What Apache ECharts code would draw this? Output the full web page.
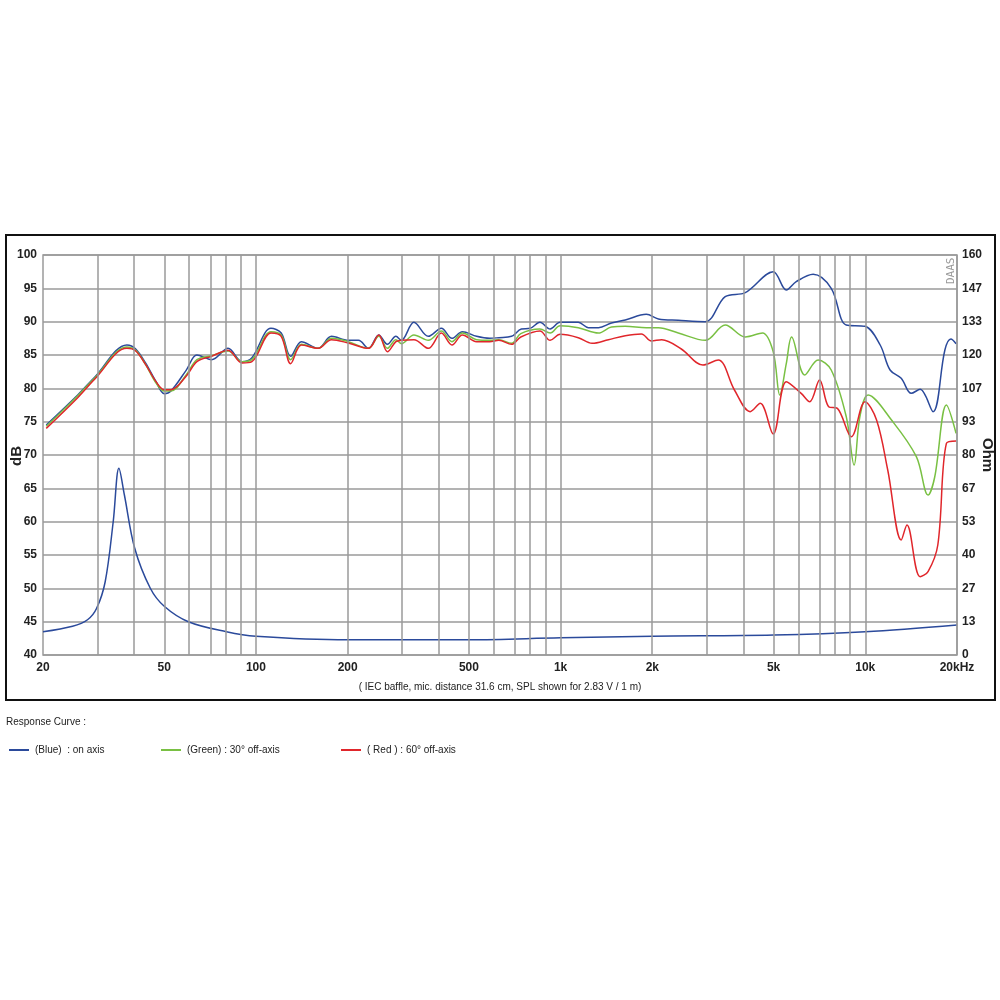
<!DOCTYPE html>
<html><head><meta charset="utf-8">
<script src="https://cdn.jsdelivr.net/npm/echarts@6/dist/echarts.min.js"></script>
<style>html,body{margin:0;padding:0;background:#fff}#c{width:1000px;height:1000px}</style>
</head><body><div id="c"></div>
<script>
const blueF = [20.5,26,29.6,37.7,40.3,43.4,47,50,52.6,59,64,71.5,81,90,97,112,121,130,141,160,177,201,217,234,253,270,288,300,330,368,406,440,476,530,585,627,690,743,794,855,924,996,1143,1234,1331,1469,1630,1911,2094,2434,2985,3469,4036,4985,5506,5934,6745,7730,8660,9980,11190,12060,13120,14150,15130,16690,18250,19100,19860];
const blueV = [74.5,79,81.7,86.5,85.9,83.8,81,79.2,79.6,82.7,85,84.3,86,84,84.6,89,88.3,84.8,87,86,87.8,87.2,87.2,86,88,86.6,87.8,87.2,89.9,87.8,89,87.5,88.5,87.8,87.5,87.6,87.8,88.9,89,89.9,88.9,89.9,89.9,89.1,89.1,89.8,90.25,91.1,90.4,90.2,90,93.75,94.35,97.5,94.75,96,97.1,95,89.5,89.3,86.5,82.75,81.5,79.25,79.85,76.5,85.75,87.4,86.7];
const greenF = [20.5,26,29.6,37.7,40.3,43.4,47,50,52.6,59,64,71.5,81,90,97,112,121,130,141,160,177,201,234,253,270,288,300,330,368,406,440,476,530,585,627,690,740,855,924,996,1143,1331,1469,1630,1911,2094,2434,2985,3469,4036,4600,4985,5240,5506,5730,6330,7000,7730,8660,9190,9600,10220,12190,14710,16070,16900,18460,19860];
const greenV = [74.3,78.9,81.6,86.2,85.7,83.6,80.8,79.6,79.6,82,84.3,84.9,85.6,84,84.3,88.5,88,84.3,86.6,86,87.5,87,86,87.8,86,87.3,86.7,88,87.2,88.6,87,88.3,87.3,87.2,87.3,86.75,88.2,88.9,88.3,89.4,89.1,88.3,89.2,89.3,89.1,89.1,88.3,87.2,89.5,87.7,88.3,85.5,79,83.75,87.7,82,84.25,82.75,75.75,68.5,75.75,79,75.25,69.75,64,66.7,77.5,73.25];
const redF = [20.5,26,29.6,37.7,40.3,43.4,47,50,52.6,59,64,71.5,81,90,97,112,121,130,141,160,177,201,234,253,270,288,300,330,368,406,440,476,530,585,627,690,740,855,924,996,1143,1268,1435,1630,1841,1986,2147,2490,2930,3290,3720,4190,4520,4985,5506,6160,6570,7080,7580,8100,9000,9980,10890,11850,13120,13700,15130,16070,17300,18460,19860];
const redV = [74,78.6,81.4,86,85.6,83.6,81,79.8,79.8,81.8,84,84.8,85.7,83.8,84,88.3,87.8,83.7,86.5,86,87.3,86.8,86,88,85.5,87,87.2,87.3,86,88.3,86.5,88,87,87,87.2,86.6,87.7,88.6,87.2,88.1,87.6,86.75,87.3,87.9,88.15,87.1,87.3,85.9,83.5,84.25,79.75,76.5,77.75,73.15,81,79.25,78,81.25,77.25,77,72.75,78,75.25,67.75,57.25,59.5,51.75,52.5,56.5,71.75,72.1];
const impF = [20,25,28,30,32,34,35.5,37,40,45,50,60,80,100,200,500,1000,2000,5000,10000,20000];
const impV = [9.3,11.5,14.1,18.7,29.3,53.3,74.7,64,42.7,26.7,19.5,13.3,9.3,7.5,6.1,6.1,6.9,7.5,8,9.3,12];
const gridFreqs = [20,30,40,50,60,70,80,90,100,200,300,400,500,600,700,800,900,1000,2000,3000,4000,5000,6000,7000,8000,9000,10000,20000];
const labelFreqs = [20,50,100,200,500,1000,2000,5000,10000,20000];
const labelTexts = ['20','50','100','200','500','1k','2k','5k','10k','20kHz'];
const legendNames = ['(Blue)  : on axis','(Green) : 30° off-axis','( Red ) : 60° off-axis'];

const L = Math.log10;
const XMIN = L(20), XMAX = L(20000);
const pts = (F, V) => F.map((f, i) => [L(f), V[i]]);
const FONT = 'Liberation Sans';
const chart = echarts.init(document.getElementById('c'));
const lineSeries = (name, F, V, color, yi) => ({
  name, type: 'line', data: pts(F, V), yAxisIndex: yi || 0, showSymbol: false, smooth: 0.35,
  lineStyle: { color, width: 1.5 }, itemStyle: { color }, z: 3, silent: true
});
const lblVals = labelFreqs.map(L);
chart.setOption({
  animation: false,
  grid: { left: 43, right: 43, top: 255, bottom: 345, containLabel: false, outerBoundsMode: 'none',
    show: true, borderColor: '#9a9a9a', borderWidth: 1.5, backgroundColor: 'transparent' },
  xAxis: { type: 'value', min: XMIN, max: XMAX, axisTick: { show: false },
    axisLabel: { show: true, customValues: lblVals, showMinLabel: true, showMaxLabel: true, margin: 7,
      fontFamily: FONT, fontSize: 12, fontWeight: 'bold', color: '#222',
      formatter: v => { let i = lblVals.findIndex(x => Math.abs(x - v) < 1e-6); return i >= 0 ? labelTexts[i] : ''; } },
    splitLine: { show: false }, axisLine: { show: false },
    name: '( IEC baffle, mic. distance 31.6 cm, SPL shown for 2.83 V / 1 m)', nameLocation: 'middle', nameGap: 27,
    nameTextStyle: { fontFamily: FONT, fontSize: 10, color: '#222' } },
  yAxis: [
    { type: 'value', min: 40, max: 100, interval: 5, axisLine: { show: false }, axisTick: { show: false },
      axisLabel: { fontFamily: FONT, fontSize: 12, fontWeight: 'bold', color: '#222', margin: 6 },
      splitLine: { lineStyle: { color: '#9a9a9a', width: 1.5 } } },
    { type: 'value', min: 0, max: 160, interval: 160/12, axisLine: { show: false }, axisTick: { show: false },
      splitLine: { show: false },
      axisLabel: { fontFamily: FONT, fontSize: 12, fontWeight: 'bold', color: '#222', margin: 5, formatter: v => Math.round(v) } }
  ],
  legend: [0,1,2].map(i => ({
    data: [legendNames[i]], left: [4,156,336][i], top: 740, icon: 'path://M0,0 L20,0 L20,2 L0,2 Z',
    itemWidth: 22, itemHeight: 2, itemGap: 4, textStyle: { fontFamily: FONT, fontSize: 10, color: '#222' }, selectedMode: false
  })),
  graphic: [
    { type: 'rect', shape: { x: 6, y: 235, width: 989, height: 465 }, style: { fill: 'none', stroke: '#111', lineWidth: 2 } },
    { type: 'text', left: 6, top: 717, style: { text: 'Response Curve :', font: '10px "Liberation Sans"', fill: '#222' } },
    { type: 'text', x: 946, y: 284, rotation: Math.PI/2, style: { text: 'DAAS', font: '11px "DejaVu Sans Mono"', fill: '#999' } },
    { type: 'text', x: 9, y: 466, rotation: Math.PI/2, style: { text: 'dB', font: 'bold 15px "Liberation Sans"', fill: '#222' } },
    { type: 'text', x: 995, y: 438, rotation: -Math.PI/2, style: { text: 'Ohm', font: 'bold 15px "Liberation Sans"', fill: '#222' } }
  ],
  series: [
    { type: 'line', data: [], silent: true, markLine: { silent: true, symbol: 'none', animation: false,
        lineStyle: { color: '#9a9a9a', width: 1.5, type: 'solid' }, label: { show: false },
        data: gridFreqs.map(f => ({ xAxis: L(f) })) } },
    lineSeries(legendNames[0], blueF, blueV, '#2b4a9b'),
    lineSeries(legendNames[1], greenF, greenV, '#79c043'),
    lineSeries(legendNames[2], redF, redV, '#e0262b'),
    lineSeries('Impedance', impF, impV, '#2b4a9b', 1)
  ]
});
</script></body></html>
